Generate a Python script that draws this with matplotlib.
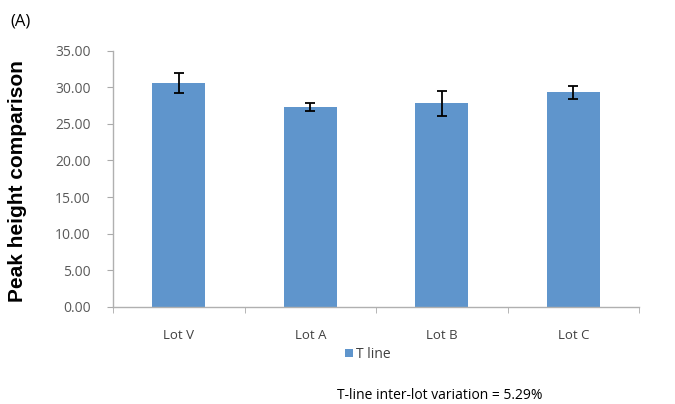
import matplotlib
matplotlib.use("Agg")
import matplotlib.pyplot as plt
import numpy as np

categories = ["Lot V", "Lot A", "Lot B", "Lot C"]
values = [30.6, 27.3, 27.8, 29.3]
errors = [1.4, 0.6, 1.7, 0.9]
yticks = [0, 5, 10, 15, 20, 25, 30, 35]

bar_color = "#5f95cc"
tick_color = "#595959"

fig = plt.figure(figsize=(6.75, 4.04), dpi=100)
ax = fig.add_axes([0.1674, 0.2408, 0.7793, 0.6335])

x = np.arange(len(categories))
ax.bar(x, values, width=0.4, color=bar_color, label="T line", zorder=2)
ax.errorbar(x, values, yerr=errors, fmt="none", ecolor="black", elinewidth=1.3,
            capsize=3.5, capthick=1.3, zorder=3)

ax.set_xlim(-0.5, 3.5)
ax.set_ylim(0, 35)
ax.set_yticks(yticks)
ax.set_yticklabels([f"{v:.2f}" for v in yticks], fontfamily="Open Sans",
                   fontsize=10, color=tick_color)

ax.set_xticks(x)
ax.set_xticklabels(categories, fontfamily="Open Sans", fontsize=9.5, color="#404040")
ax.tick_params(axis="x", length=0, pad=16)
ax.set_xticks(np.arange(-0.5, 3.6, 1), minor=True)
ax.tick_params(axis="x", which="minor", length=4, color="#aaaaaa", direction="out")
ax.tick_params(axis="y", length=4, color="#aaaaaa", pad=12)

for s in ["top", "right"]:
    ax.spines[s].set_visible(False)
for s in ["left", "bottom"]:
    ax.spines[s].set_color("#b0b0b0")
    ax.spines[s].set_linewidth(1)

ax.set_ylabel("Peak height comparison", fontfamily="Liberation Sans",
              fontweight="bold", fontsize=15)
ax.yaxis.set_label_coords(-0.163, 0.49)

leg = ax.legend(loc="upper left", bbox_to_anchor=(0.427, -0.13), frameon=False,
                prop={"family": "Open Sans", "size": 10}, handlelength=0.6,
                handleheight=0.6, handletextpad=0.2, borderpad=0)
for t in leg.get_texts():
    t.set_color("#404040")

fig.text(0.016, 0.948, "(A)", fontfamily="Open Sans", fontsize=12, va="center")
fig.text(0.499, 0.022, "T-line inter-lot variation = 5.29%", fontfamily="Open Sans",
         fontsize=10, va="center")

fig.savefig("out.png", dpi=100, facecolor="white")
